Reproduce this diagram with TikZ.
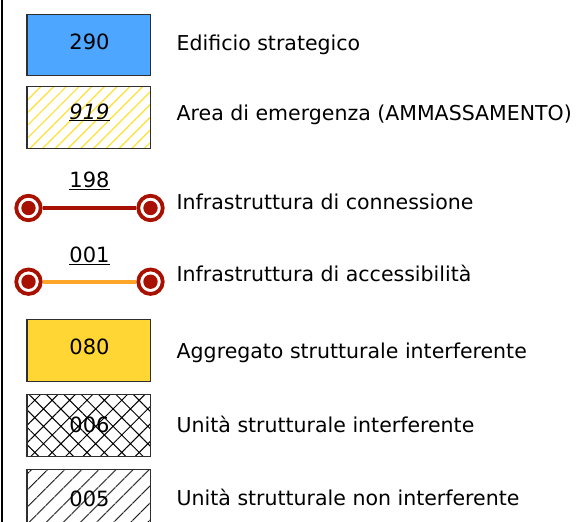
\documentclass[tikz,border=0pt]{standalone}
\usepackage{fontspec}
\setmainfont{DejaVu Sans}
\usetikzlibrary{patterns.meta}
\definecolor{blau}{HTML}{4DA6FF}
\definecolor{gelb}{HTML}{FFD633}
\definecolor{strich}{HTML}{FFE033}
\definecolor{dunkelrot}{HTML}{A81000}
\definecolor{zugang}{HTML}{FFA629}
\definecolor{rahmen}{HTML}{2E2E2E}
\tikzset{
  feld/.style={draw=rahmen,line width=1.1pt,minimum width=123.5pt,minimum height=61.5pt,inner sep=0pt},
  zahl/.style={font=\fontsize{21}{24}\selectfont,anchor=base,inner sep=0pt},
  txt/.style={font=\fontsize{20.5}{24}\selectfont,anchor=base west,inner sep=0pt},
  knoten/.style={circle,draw=dunkelrot,line width=3.8pt,fill=white,minimum size=24.5pt,inner sep=0pt,
    path picture={\fill[dunkelrot] (path picture bounding box.center) circle (7.2pt);}},
  verb/.style={line width=4pt},
}
\begin{document}
\begin{tikzpicture}[x=1pt,y=-1pt]
  \useasboundingbox (0,0) rectangle (576,522);
  % ===== Rand =====
  \draw[black,line width=2.2pt] (2,0)--(2,522);
  % ===== Flaechen oben =====
  \node[feld,fill=blau] (f290) at (88.75,45) {};
  \node[zahl] (z290) at (89.5,49) {290};
  \node[feld,pattern={Lines[angle=45,distance=9pt,line width=1.2pt]},pattern color=strich] (f919) at (88.75,117.5) {};
  \node[zahl] (z919) at (89.5,119) {\textit{\underline{919}}};
  % ===== Infrastrutture =====
  \node[knoten] (k198l) at (28.5,208) {};
  \node[knoten] (k198r) at (150.5,208) {};
  \draw[verb,dunkelrot] (k198l) -- (k198r);
  \node[zahl] (z198) at (89.5,187.3) {\underline{198}};
  \node[knoten] (k001l) at (28.5,281.7) {};
  \node[knoten] (k001r) at (150.5,281.7) {};
  \draw[verb,zugang] (k001l) -- (k001r);
  \node[zahl] (z001) at (89.5,262.7) {\underline{001}};
  % ===== Flaechen unten =====
  \node[feld,fill=gelb] (f080) at (88.75,350.5) {};
  \node[zahl] (z080) at (89.5,354) {080};
  \node[feld,pattern={Hatch[angle=45,distance=12.3pt,line width=1pt]},pattern color=black] (f006) at (88.75,425.5) {};
  \node[zahl] (z006) at (89.5,432) {006};
  \node[feld,pattern={Lines[angle=45,distance=13pt,line width=1.1pt]},pattern color=black] (f005) at (88.75,500.5) {};
  \node[zahl] (z005) at (89.5,506) {005};
  % ===== Legende =====
  \node[txt] (t290) at (176.5,50.7) {Edificio strategico};
  \node[txt] (t919) at (176.5,120.7) {Area di emergenza (AMMASSAMENTO)};
  \node[txt] (t198) at (176.5,209.3) {Infrastruttura di connessione};
  \node[txt] (t001) at (176.5,281) {Infrastruttura di accessibilità};
  \node[txt] (t080) at (176.5,358.7) {Aggregato strutturale interferente};
  \node[txt] (t006) at (176.5,432) {Unità strutturale interferente};
  \node[txt] (t005) at (176.5,505) {Unità strutturale non interferente};
\end{tikzpicture}
\end{document}
